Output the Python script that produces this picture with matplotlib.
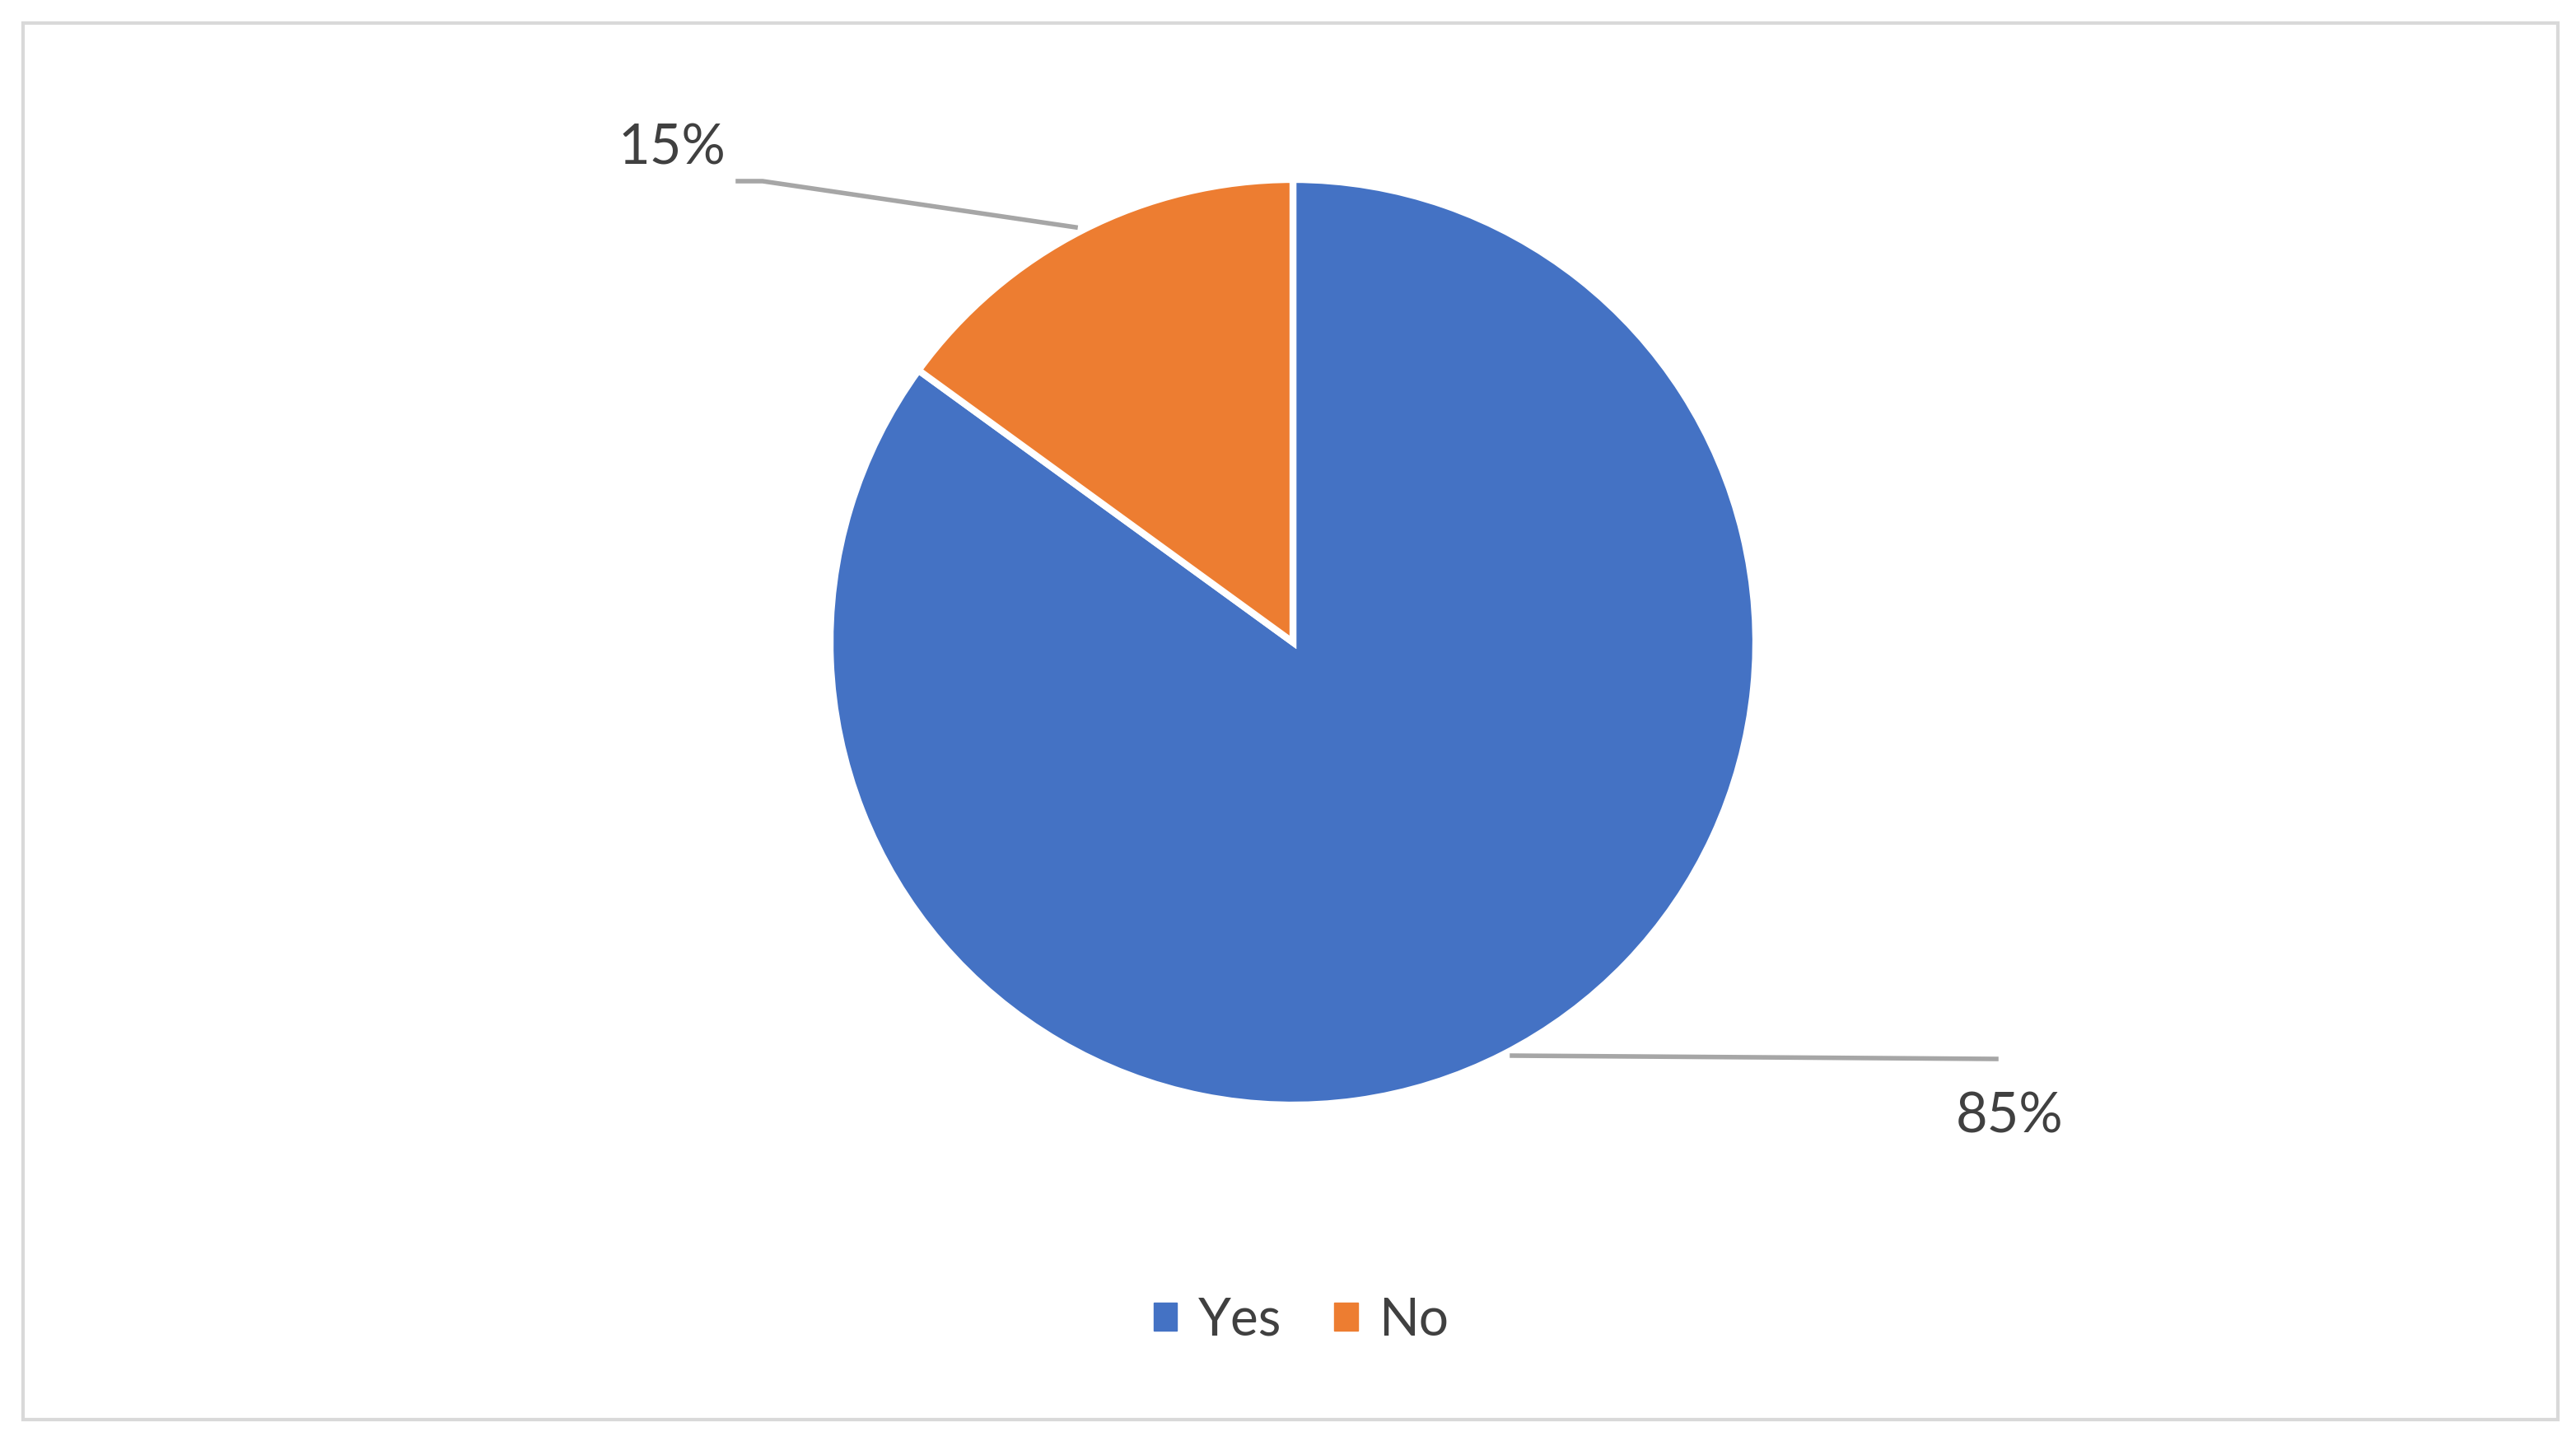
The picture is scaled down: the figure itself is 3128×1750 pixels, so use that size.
import matplotlib
matplotlib.use("Agg")
import matplotlib.pyplot as plt
from matplotlib.patches import Rectangle
from matplotlib.lines import Line2D

categories = ["Yes", "No"]
values = [85, 15]
colors = ["#4472C4", "#ED7D31"]
labels = ["85%", "15%"]

plt.rcParams['font.family'] = ['Lato', 'DejaVu Sans']
W, H = 3128, 1750
fig = plt.figure(figsize=(W/100, H/100), dpi=100)
fig.patches.append(Rectangle((28/W, 26/H), (3106-28)/W, (1724-28)/H, transform=fig.transFigure,
                             fill=False, edgecolor="#D9D9D9", linewidth=3))
cx, cy, r = 1570, 780, 562
ax = fig.add_axes([(cx-r)/W, (H-cy-r)/H, 2*r/W, 2*r/H])
wedges, _ = ax.pie(values, colors=colors, startangle=90, counterclock=False,
                   wedgeprops=dict(edgecolor="white", linewidth=6))
ax.set_xlim(-1, 1)
ax.set_ylim(-1, 1)
ax.set_aspect("equal")

def P(x, y):
    return x/W, 1-y/H
for pts in ([(896, 220), (926, 220), (1306, 276)], [(1836, 1282), (2424, 1286)]):
    xs, ys = zip(*[P(*p) for p in pts])
    fig.lines.append(Line2D(xs, ys, transform=fig.transFigure, color="#A6A6A6", linewidth=4))

fig.text(*P(816, 180), labels[1], ha="center", va="center", fontsize=48, color="#404040")
fig.text(*P(2440, 1356), labels[0], ha="center", va="center", fontsize=48, color="#404040")

handles = [Rectangle((0, 0), 1, 1, color=c) for c in colors]
fig.legend(handles, categories, loc="center", bbox_to_anchor=P(1580, 1604), ncol=2,
           frameon=False, fontsize=46, labelcolor="#404040", handlelength=0.45,
           handleheight=0.45, handletextpad=0.4, columnspacing=1.0)
fig.savefig("out.png", dpi=100)
